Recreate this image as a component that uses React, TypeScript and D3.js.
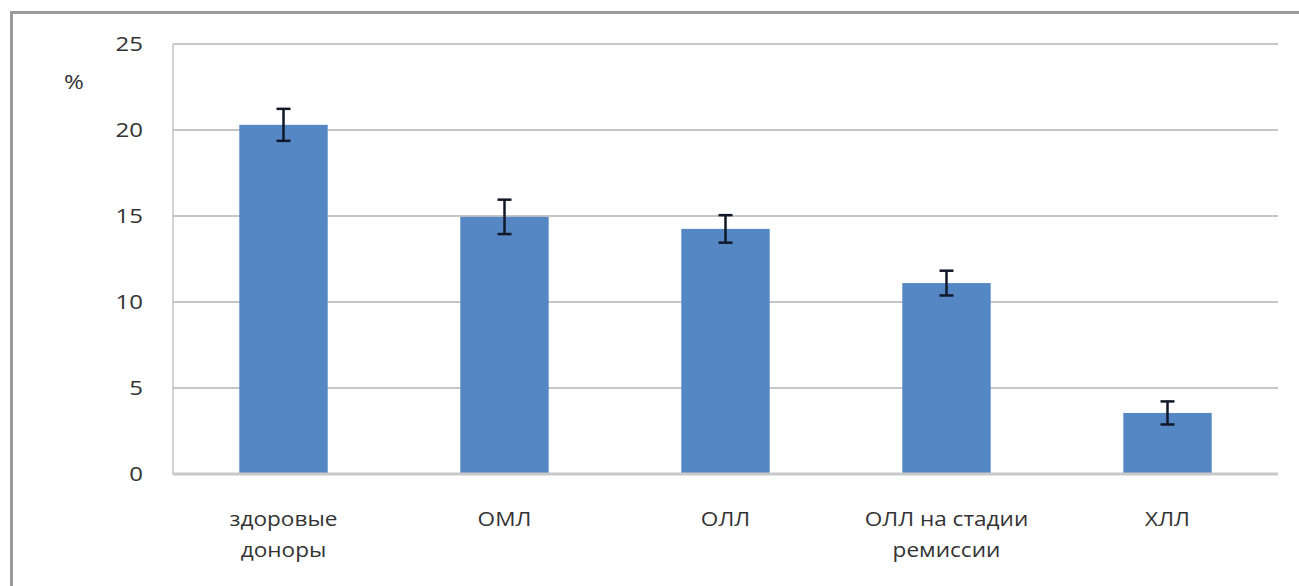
import React from "react";
import * as d3 from "d3";

const categories: string[][] = [
  ["здоровые", "доноры"],
  ["ОМЛ"],
  ["ОЛЛ"],
  ["ОЛЛ на стадии", "ремиссии"],
  ["ХЛЛ"],
];
const values = [20.3, 14.95, 14.25, 11.1, 3.55];
const errors = [0.93, 1.0, 0.8, 0.72, 0.67];
const yTicks = [0, 5, 10, 15, 20, 25];

const W = 1299;
const H = 586;
const M = { left: 173, right: 1278, top: 44, bottom: 474 };

export default function App() {
  const x = d3
    .scaleBand<number>()
    .domain(values.map((_, i) => i))
    .range([M.left, M.right])
    .paddingInner(0.6)
    .paddingOuter(0.3);
  const y = d3.scaleLinear().domain([0, 25]).range([M.bottom, M.top]);
  const font = "'Open Sans', 'DejaVu Sans', sans-serif";
  const fs = 20;
  const sx = 1.2;
  const sxc = 1.13;
  return (
    <svg
      width={W}
      height={H}
      style={{ position: "absolute", left: 0, top: 0, background: "#fff" }}
      fontFamily={font}
    >
      <rect x={0} y={0} width={W} height={H} fill="#fff" />
      {/* frame */}
      <line x1={11.5} y1={12} x2={11.5} y2={H} stroke="#9a9a9a" strokeWidth={3} />
      <line x1={10} y1={12.5} x2={W} y2={12.5} stroke="#9a9a9a" strokeWidth={3} />
      {/* gridlines */}
      {yTicks.map((t) =>
        t === 0 ? null : (
          <line
            key={t}
            x1={M.left}
            x2={M.right}
            y1={y(t)}
            y2={y(t)}
            stroke="#c6c6c6"
            strokeWidth={2}
          />
        )
      )}
      <line x1={M.left} x2={M.left} y1={M.top} y2={M.bottom} stroke="#c4c4c4" strokeWidth={1.5} />
      {/* tick labels */}
      {yTicks.map((t) => (
        <text
          key={"l" + t}
          transform={`translate(143,${y(t)}) scale(${sx},1)`}
          dy="0.35em"
          textAnchor="end"
          fontSize={fs}
          fill="#333"
        >
          {t}
        </text>
      ))}
      <text
        transform={`translate(74,82) scale(${sx},1)`}
        dy="0.35em"
        textAnchor="middle"
        fontSize={fs}
        fill="#333"
      >
        %
      </text>
      {/* bars */}
      {values.map((v, i) => (
        <rect
          key={"b" + i}
          x={x(i)}
          y={y(v)}
          width={x.bandwidth()}
          height={y(0) - y(v)}
          fill="#5587c5"
        />
      ))}
      {/* x axis line */}
      <line x1={M.left} x2={M.right} y1={M.bottom} y2={M.bottom} stroke="#c9c9c9" strokeWidth={3} />
      {/* error bars */}
      {values.map((v, i) => {
        const cx = (x(i) as number) + x.bandwidth() / 2;
        const y1 = y(v + errors[i]);
        const y2 = y(v - errors[i]);
        return (
          <g key={"e" + i} stroke="#111827" strokeWidth={2.5}>
            <line x1={cx} x2={cx} y1={y1} y2={y2} />
            <line x1={cx - 7} x2={cx + 7} y1={y1} y2={y1} />
            <line x1={cx - 7} x2={cx + 7} y1={y2} y2={y2} />
          </g>
        );
      })}
      {/* category labels */}
      {categories.map((lines, i) => {
        const cx = (x(i) as number) + x.bandwidth() / 2;
        return lines.map((ln, j) => (
          <text
            key={"c" + i + "-" + j}
            transform={`translate(${cx},${519 + j * 31}) scale(${sxc},1)`}
            dy="0.35em"
            textAnchor="middle"
            fontSize={fs}
            fill="#333"
          >
            {ln}
          </text>
        ));
      })}
    </svg>
  );
}
